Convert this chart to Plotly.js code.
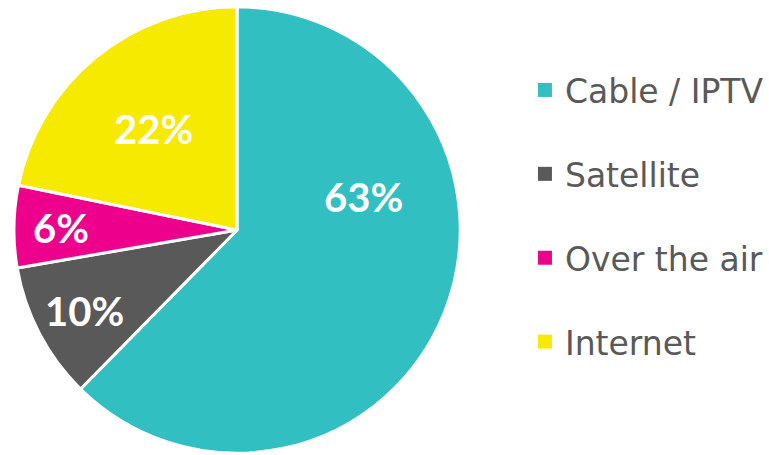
<!DOCTYPE html>
<html><head><meta charset="utf-8">
<script src="https://cdn.plot.ly/plotly-3.0.1.min.js"></script>
<style>html,body{margin:0;padding:0;background:#fff}#c{width:769px;height:455px}</style>
</head><body><div id="c"></div>
<script>
const categories = ["Cable / IPTV", "Satellite", "Over the air", "Internet"];
const shares = [63, 10, 6, 22];
const colors = ["#31BFC1", "#595959", "#EC008C", "#F5EA00"];

const W = 769, H = 455;
const pieLeft = 14, pieRight = 462, pieTop = 6, pieBottom = 454;
// label placement style: fraction of slice angle and fraction of radius
const labelAngleFrac = [0.334, 0.5, 0.5, 0.5];
const labelRadiusFrac = [0.585, 0.77, 0.79, 0.59];

const traces = [{
  type: "pie",
  labels: categories,
  values: shares,
  sort: false,
  direction: "clockwise",
  rotation: 0,
  marker: {colors: colors, line: {color: "#ffffff", width: 3}},
  textinfo: "none",
  hoverinfo: "label+value",
  showlegend: false,
  domain: {x: [pieLeft / W, pieRight / W], y: [1 - pieBottom / H, 1 - pieTop / H]}
}];
categories.forEach((c, i) => {
  traces.push({
    type: "scatter", mode: "markers", x: [null], y: [null],
    name: c, legendgroup: "g" + i,
    marker: {symbol: "square", size: 14, color: colors[i]},
    showlegend: true
  });
});

// labels derived from the data: cumulative shares -> angle, pie geometry -> position
const total = shares.reduce((a, b) => a + b, 0);
const cx = (pieLeft + pieRight) / 2, cy = (pieTop + pieBottom) / 2;
const R = (pieRight - pieLeft) / 2;
let cum = 0;
const annotations = shares.map((v, i) => {
  const a0 = cum / total * 2 * Math.PI;
  cum += v;
  const a1 = cum / total * 2 * Math.PI;
  const th = a0 + (a1 - a0) * labelAngleFrac[i];
  const r = R * labelRadiusFrac[i];
  const px = cx + r * Math.sin(th), py = cy - r * Math.cos(th) + 1;
  return {
    xref: "paper", yref: "paper", x: px / W, y: 1 - py / H,
    xanchor: "center", yanchor: "middle", showarrow: false,
    text: v + "%",
    font: {family: "Lato, 'Open Sans', sans-serif", size: 40, color: "#ffffff", weight: "bold"}
  };
});

const layout = {
  width: W, height: H,
  margin: {l: 0, r: 0, t: 0, b: 0},
  paper_bgcolor: "#ffffff", plot_bgcolor: "#ffffff",
  xaxis: {visible: false}, yaxis: {visible: false},
  annotations: annotations,
  legend: {
    x: 527 / W, xanchor: "left", y: 1 - 216 / H, yanchor: "middle",
    font: {family: "'DejaVu Sans', Verdana, sans-serif", size: 33, color: "#595959"},
    tracegroupgap: 38, itemclick: false, itemdoubleclick: false
  },
  showlegend: true
};
Plotly.newPlot("c", traces, layout, {displayModeBar: false, staticPlot: true});
</script></body></html>
